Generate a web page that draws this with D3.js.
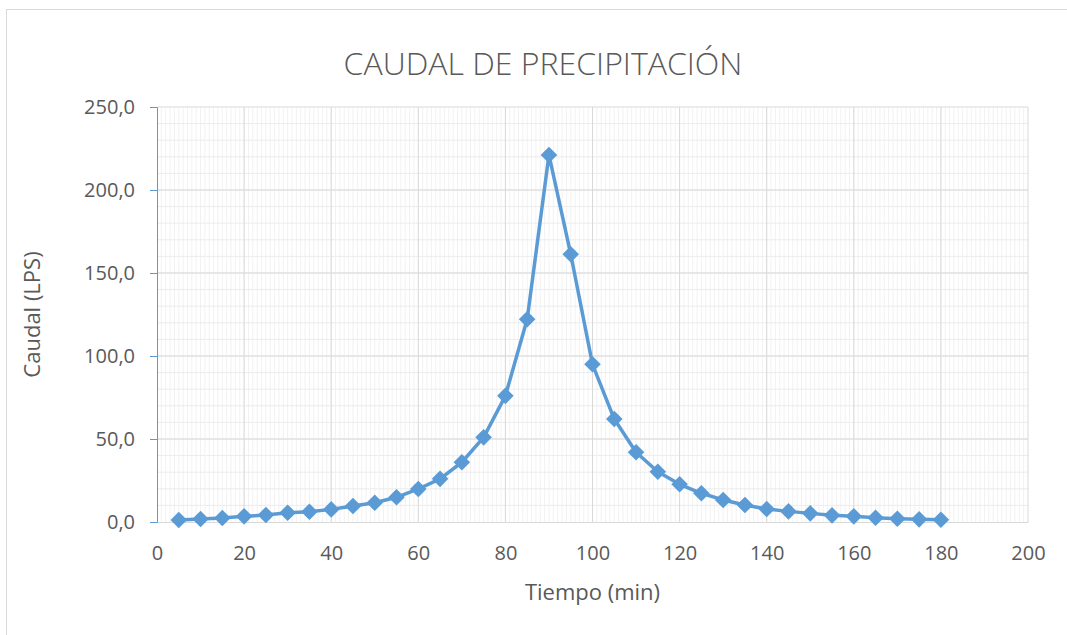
<!DOCTYPE html>
<html>
<head>
<meta charset="utf-8">
<script src="https://cdn.jsdelivr.net/npm/d3@7"></script>
<style>
  body { margin: 0; background: #fff; }
  text { font-family: "Open Sans", "Noto Sans", sans-serif; }
</style>
</head>
<body>
<script>
// tiempo (min) y caudal (LPS)
const tiempo = [5, 10, 15, 20, 25, 30, 35, 40, 45, 50, 55, 60, 65, 70, 75, 80, 85, 90,
  95, 100, 105, 110, 115, 120, 125, 130, 135, 140, 145, 150, 155, 160, 165, 170, 175, 180]
const caudal = [1.2, 1.8, 2.4, 3.4, 4.2, 5.6, 6.2, 7.6, 9.6, 11.6, 14.9, 19.9, 26.0, 36.0, 51.0, 76.0, 122.1, 221.1,
  161.3, 95.0, 62.0, 42.0, 30.3, 22.7, 17.3, 13.3, 10.2, 7.8, 6.4, 5.2, 4.0, 3.4, 2.6, 2.0, 1.6, 1.4]
const xTicks = [0, 20, 40, 60, 80, 100, 120, 140, 160, 180, 200]
const yTicks = [0, 50, 100, 150, 200, 250]

const width = 1067, height = 635
const margin = { top: 107, right: 39, bottom: 113, left: 157 }
const blue = "#5b9bd5"

const svg = d3.select("body").append("svg")
    .attr("width", width)
    .attr("height", height)

svg.append("rect")
    .attr("x", 6.5).attr("y", 9.5)
    .attr("width", width + 10).attr("height", height + 10)
    .style("fill", "white")
    .style("stroke", "#d9d9d9")

const x = d3.scaleLinear().domain([0, 200]).range([margin.left, width - margin.right])
const y = d3.scaleLinear().domain([0, 250]).range([height - margin.bottom, margin.top])

const grid = svg.append("g")
// minor vertical every 1 unit
grid.selectAll(".vmin").data(d3.range(1, 200)).join("line")
    .attr("x1", d => x(d)).attr("x2", d => x(d))
    .attr("y1", y(0)).attr("y2", y(250))
    .style("stroke", "#f2f2f2").style("stroke-width", 1)
// minor horizontal every 10
grid.selectAll(".hmin").data(d3.range(10, 250, 10)).join("line")
    .attr("x1", x(0)).attr("x2", x(200))
    .attr("y1", d => y(d)).attr("y2", d => y(d))
    .style("stroke", "#ececec").style("stroke-width", 1)
// major
grid.selectAll(".vmaj").data(xTicks.slice(1)).join("line")
    .attr("x1", d => x(d)).attr("x2", d => x(d))
    .attr("y1", y(0)).attr("y2", y(250))
    .style("stroke", "#d9d9d9").style("stroke-width", 1)
grid.selectAll(".hmaj").data(yTicks.slice(1)).join("line")
    .attr("x1", x(0)).attr("x2", x(200))
    .attr("y1", d => y(d)).attr("y2", d => y(d))
    .style("stroke", "#d9d9d9").style("stroke-width", 1)

// x axis
const xAxis = svg.append("g")
    .attr("transform", `translate(0,${y(0)})`)
    .call(d3.axisBottom(x).tickValues(xTicks).tickSize(0).tickPadding(24))
xAxis.select(".domain").style("stroke", "#d9d9d9")
xAxis.selectAll("text").style("font-size", "20px").style("fill", "#595959")

// y axis
const yAxis = svg.append("g")
    .attr("transform", `translate(${x(0)},0)`)
    .call(d3.axisLeft(y).tickValues(yTicks).tickSizeOuter(0).tickSize(7).tickPadding(15)
      .tickFormat(d => d3.format(".1f")(d).replace(".", ",")))
yAxis.select(".domain").style("stroke", blue)
yAxis.selectAll(".tick line").style("stroke", blue)
yAxis.selectAll("text").style("font-size", "20px").style("fill", "#595959")

// line
const pts = tiempo.map((t, i) => [t, caudal[i]])
svg.append("path")
    .datum(pts)
    .attr("d", d3.line().x(d => x(d[0])).y(d => y(d[1])))
    .style("fill", "none")
    .style("stroke", blue)
    .style("stroke-width", 3.5)
    .style("stroke-linejoin", "round")

svg.selectAll(".mk").data(pts).join("path")
    .attr("transform", d => `translate(${x(d[0])},${y(d[1])})`)
    .attr("d", d3.symbol(d3.symbolDiamond2, 175))
    .style("fill", blue)

// titles
svg.append("text")
    .attr("x", 543).attr("y", 75)
    .attr("text-anchor", "middle")
    .style("font-size", "32px")
    .style("font-weight", 300)
    .style("fill", "#595959")
    .text("CAUDAL DE PRECIPITACIÓN")

svg.append("text")
    .attr("x", (x(0) + x(200)) / 2).attr("y", 600)
    .attr("text-anchor", "middle")
    .style("font-size", "22px")
    .style("fill", "#595959")
    .text("Tiempo (min)")

svg.append("text")
    .attr("transform", `translate(40,${(y(0) + y(250)) / 2}) rotate(-90)`)
    .attr("text-anchor", "middle")
    .style("font-size", "22px")
    .style("fill", "#595959")
    .text("Caudal (LPS)")
</script>
</body>
</html>
